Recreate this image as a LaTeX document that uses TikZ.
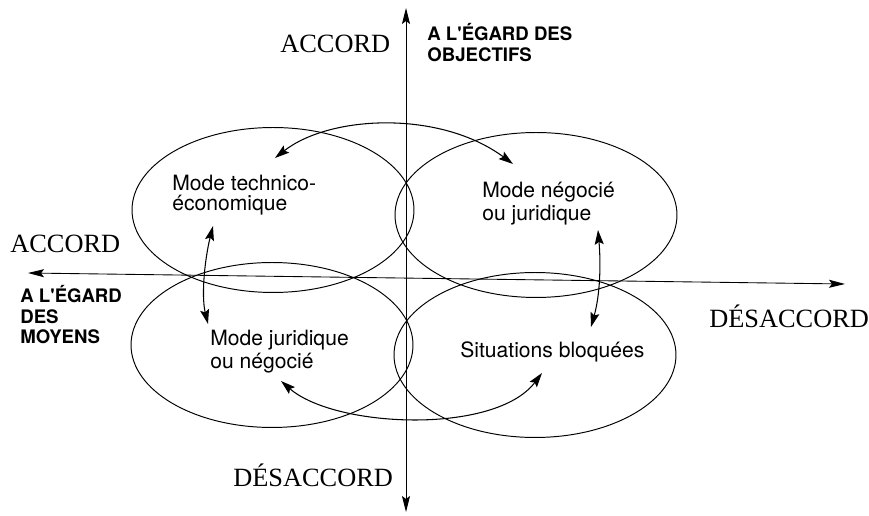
\documentclass[tikz,border=0pt]{standalone}
\usepackage{fontspec}
\setmainfont{Liberation Serif}
\newfontfamily\helv{TeX Gyre Heros}
\usetikzlibrary{shapes.geometric,arrows.meta}

\tikzset{
  zone/.style={draw,ellipse,line width=0.55pt,minimum width=5.64cm,minimum height=3.3cm,inner sep=0pt},
  mode/.style={anchor=north west,inner sep=0pt,align=left,font=\helv\fontsize{12}{13}\selectfont},
  pointe/.style={Stealth[length=3mm,width=1.7mm,inset=0.6mm]},
  axe/.style={line width=0.5pt,{Stealth[length=3.2mm,width=1.6mm,inset=0.6mm]}-{Stealth[length=3.2mm,width=1.6mm,inset=0.6mm]}},
  lien/.style={line width=0.6pt,{Stealth[length=2.9mm,width=1.8mm,inset=0.5mm]}-{Stealth[length=2.9mm,width=1.8mm,inset=0.5mm]}},
  titre/.style={anchor=base west,inner sep=0pt,font=\fontsize{15}{18}\selectfont},
  legende/.style={anchor=north west,inner sep=0pt,align=left,font=\helv\bfseries\fontsize{10.6}{11.8}\selectfont}
}

\begin{document}
\begin{tikzpicture}[x=0.02cm,y=-0.02cm]
      \useasboundingbox (0,0) rectangle (869,516);

      % les axes
      \coordinate (gauche) at (28,273);
      \coordinate (droite) at (845,284);
      \coordinate (haut) at (406,8);
      \coordinate (bas) at (406,512);
      \draw[axe] (gauche) -- (droite);
      \draw[axe] (haut) -- (bas);

      \node[titre] (accordh) at (280,53) {ACCORD};
      \node[legende] (objectifs) at (427,23) {A L'ÉGARD DES\\OBJECTIFS};
      \node[titre] (accordg) at (10,253) {ACCORD};
      \node[legende] (moyens) at (20,285) {A L'ÉGARD\\DES\\MOYENS};
      \node[titre] (desaccordd) at (709,328) {DÉSACCORD};
      \node[titre] (desaccordb) at (233,487) {DÉSACCORD};

      \begin{scope}[shift={(273,210)}]
        \node[zone] (hg) at (0,0) {};
        \node[mode,font=\helv\fontsize{12}{11.3}\selectfont] (technico) at (-101,-35) {Mode technico-\\économique};
      \end{scope}
      \begin{scope}[shift={(536,215)}]
        \node[zone] (hd) at (0,0) {};
        \node[mode] (negocie) at (-54,-33) {Mode négocié\\ou juridique};
      \end{scope}
      \begin{scope}[shift={(272,345)}]
        \node[zone] (bg) at (0,0) {};
        \node[mode] (juridique) at (-62,-15) {Mode juridique\\ou négocié};
      \end{scope}
      \begin{scope}[shift={(535,355)}]
        \node[zone] (bd) at (0,0) {};
        \node[mode] (bloquees) at (-75,-14) {Situations bloquées};
      \end{scope}

      % les passages d'un mode a l'autre
      \coordinate (p1) at (275,158);
      \coordinate (p2) at (513,164);
      \coordinate (p3) at (213,226);
      \coordinate (p4) at (208,324);
      \coordinate (p5) at (598,230);
      \coordinate (p6) at (591,327);
      \coordinate (p7) at (281,381);
      \coordinate (p8) at (542,373);
      \draw[lien] (p1) .. controls (330,115) and (440,110) .. (p2);
      \draw[lien] (p3) .. controls (205,258) and (201,295) .. (p4);
      \draw[lien] (p5) .. controls (601,265) and (600,295) .. (p6);
      \draw[lien] (p7) .. controls (335,428) and (495,435) .. (p8);
    \end{tikzpicture}
\end{document}
